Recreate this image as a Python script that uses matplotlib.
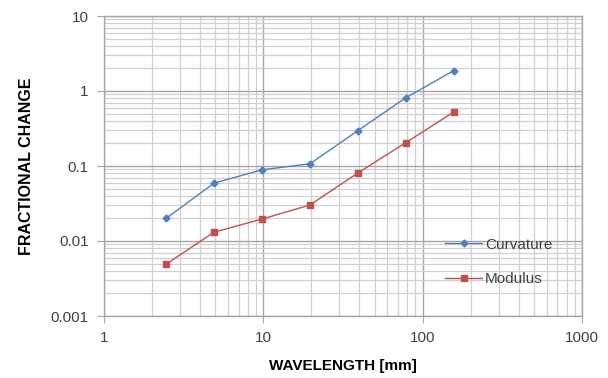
import matplotlib
matplotlib.use("Agg")
import matplotlib.pyplot as plt
from matplotlib.ticker import LogLocator, FixedLocator, NullFormatter

wavelength = [2.45, 4.9, 9.8, 19.6, 39.2, 78.4, 156.8]
curvature = [0.020, 0.059, 0.089, 0.107, 0.296, 0.815, 1.87]
modulus = [0.0049, 0.0131, 0.0196, 0.0302, 0.0807, 0.205, 0.525]
x_ticks = [1, 10, 100, 1000]
x_tick_labels = ["1", "10", "100", "1000"]
y_ticks = [0.001, 0.01, 0.1, 1, 10]
y_tick_labels = ["0.001", "0.01", "0.1", "1", "10"]

plt.rcParams['font.family'] = ['Liberation Sans', 'DejaVu Sans']
fig = plt.figure(figsize=(6.08, 3.78), dpi=100)
ax = fig.add_axes([104/608, 1-316/378, (582-104)/608, (316-16)/378])

ax.set_xscale('log')
ax.set_yscale('log')
ax.set_xlim(1, 1000)
ax.set_ylim(0.001, 10)

ax.plot(wavelength, curvature, color='#4F81BD', marker='D', markersize=3.5,
        linewidth=1.0, label='Curvature')
ax.plot(wavelength, modulus, color='#C0504D', marker='s', markersize=5,
        linewidth=1.0, label='Modulus')

ax.xaxis.set_major_locator(FixedLocator(x_ticks))
ax.set_xticklabels(x_tick_labels)
ax.yaxis.set_major_locator(FixedLocator(y_ticks))
ax.set_yticklabels(y_tick_labels)
ax.xaxis.set_minor_locator(LogLocator(base=10, subs=range(2, 10)))
ax.yaxis.set_minor_locator(LogLocator(base=10, subs=range(2, 10)))
ax.xaxis.set_minor_formatter(NullFormatter())
ax.yaxis.set_minor_formatter(NullFormatter())

ax.grid(which='major', color='#A6A6A6', linewidth=1.0)
ax.grid(which='minor', color='#D0D0D0', linewidth=0.9)
ax.set_axisbelow(True)
for s in ax.spines.values():
    s.set_color('#A6A6A6')
    s.set_linewidth(1.0)

ax.tick_params(which='major', length=5, color='#A6A6A6', labelsize=11,
               labelcolor='#404040', pad=6)
ax.tick_params(which='minor', length=0)

ax.set_xlabel('WAVELENGTH [mm]', fontsize=11, fontweight='bold', labelpad=10)
ax.set_ylabel('FRACTIONAL CHANGE', fontsize=11.5, fontweight='bold', labelpad=12)

leg = ax.legend(loc='center left', bbox_to_anchor=(0.685, 0.18), frameon=False,
                fontsize=11, labelspacing=1.35, handlelength=2.4, handletextpad=0.2)
for t in leg.get_texts():
    t.set_color('#404040')

fig.savefig('out.png', dpi=100)
